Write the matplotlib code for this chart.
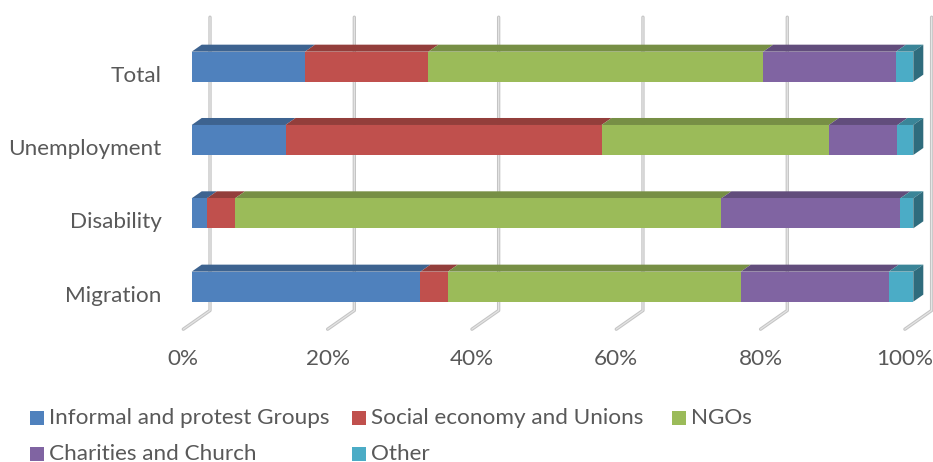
import matplotlib
matplotlib.use("Agg")
import matplotlib.pyplot as plt
from matplotlib.patches import Polygon, Rectangle
import numpy as np

# Share of actors by field (percent of each row)
categories = ["Migration", "Disability", "Unemployment", "Total"]
series_names = ["Informal and protest Groups", "Social economy and Unions", "NGOs",
                "Charities and Church", "Other"]
informal = [31.7, 2.1, 13.0, 15.7]
social = [3.8, 3.9, 43.8, 17.1]
ngos = [40.6, 67.4, 31.5, 46.4]
charities = [20.5, 24.8, 9.5, 18.4]
other = [3.4, 1.8, 2.2, 2.4]
tick_values = [0, 20, 40, 60, 80, 100]

series = [informal, social, ngos, charities, other]
face_colors = ["#4F81BD", "#C0504D", "#9BBB59", "#8064A2", "#4BACC6"]
top_colors = ["#3D6390", "#933E3B", "#778F45", "#624D7C", "#3A8598"]
side_color = "#2F6C7D"
text_color = "#595959"
font = "Lato"
fsize = 16.2

W, H, DPI = 933, 462, 100
fig = plt.figure(figsize=(W / DPI, H / DPI), dpi=DPI)

# Front plane of the plot area in pixels
left_px, right_px = 191.7, 913.3
top_px, bottom_px = 30.0, 323.3
ax = fig.add_axes([left_px / W, 1 - bottom_px / H,
                   (right_px - left_px) / W, (bottom_px - top_px) / H])
ax.set_xlim(0, 100)
ax.set_ylim(-0.5, len(categories) - 0.5)
ax.axis("off")

ppx = (right_px - left_px) / 100.0          # pixels per percent
ppy = (bottom_px - top_px) / len(categories)  # pixels per category


def px2dx(p):
    return p / ppx


def px2dy(p):
    return p / ppy


# Depth offsets (pixels): bar depth, back wall and floor front edge
bar_dx, bar_dy = px2dx(10), px2dy(7)
back_dx, back_dy = px2dx(18.3), px2dy(12.8)
front_dx, front_dy = px2dx(-8.4), px2dy(-5.9)

y0, y1 = -0.5, len(categories) - 0.5

# Gridlines on the back wall folding onto the floor
for v in tick_values:
    xs = [v + front_dx, v + back_dx, v + back_dx]
    ys = [y0 + front_dy, y0 + back_dy, y1 + back_dy]
    ax.plot(xs, ys, color="#c4c4c4", lw=2.4, solid_capstyle="round",
            solid_joinstyle="round", zorder=1, clip_on=False)
    ax.plot(xs, ys, color="#e4e4e4", lw=0.9, solid_capstyle="round",
            solid_joinstyle="round", zorder=1.1, clip_on=False)

bar_h = 30.0 / ppy
ypos = np.arange(len(categories))
lefts = np.zeros(len(categories))
for vals, fc, tc in zip(series, face_colors, top_colors):
    vals = np.asarray(vals)
    ax.barh(ypos, vals, left=lefts, height=bar_h, color=fc,
            edgecolor="none", zorder=3)
    for yi, x0, w in zip(ypos, lefts, vals):
        yt = yi + bar_h / 2
        top = Polygon([(x0, yt), (x0 + w, yt), (x0 + w + bar_dx, yt + bar_dy),
                       (x0 + bar_dx, yt + bar_dy)], closed=True,
                      facecolor=tc, edgecolor="none", zorder=2.5, clip_on=False)
        ax.add_patch(top)
    lefts = lefts + vals

# Right end face of each stacked bar
for yi, x1 in zip(ypos, lefts):
    yb, yt = yi - bar_h / 2, yi + bar_h / 2
    side = Polygon([(x1, yb), (x1, yt), (x1 + bar_dx, yt + bar_dy),
                    (x1 + bar_dx, yb + bar_dy)], closed=True,
                   facecolor=side_color, edgecolor="none", zorder=2.6,
                   clip_on=False)
    ax.add_patch(side)

# Category labels
for yi, name in zip(ypos, categories):
    ax.text(px2dx(161.7 - left_px), yi - bar_h / 2, name, ha="right",
            va="baseline", fontsize=fsize, color=text_color, family=font,
            clip_on=False)

# Value axis labels along the floor front edge
for v in tick_values:
    ax.text(v + front_dx, y0 + front_dy - px2dy(30), f"{v}%", ha="center",
            va="center", fontsize=fsize, color=text_color, family=font,
            clip_on=False)

# Legend
legend_items = [(30, 417.5), (351.7, 417.5), (672, 417.5), (30, 453.5), (351.7, 453.5)]
for (lx, ly), name, fc in zip(legend_items, series_names, face_colors):
    fig.patches.append(Rectangle((lx / W, 1 - (ly + 7) / H), 14 / W, 14 / H,
                                 transform=fig.transFigure, facecolor=fc,
                                 edgecolor="none"))
    fig.text((lx + 19) / W, 1 - ly / H, name, ha="left", va="center",
             fontsize=fsize, color=text_color, family=font)

fig.savefig("out.png", dpi=DPI)
